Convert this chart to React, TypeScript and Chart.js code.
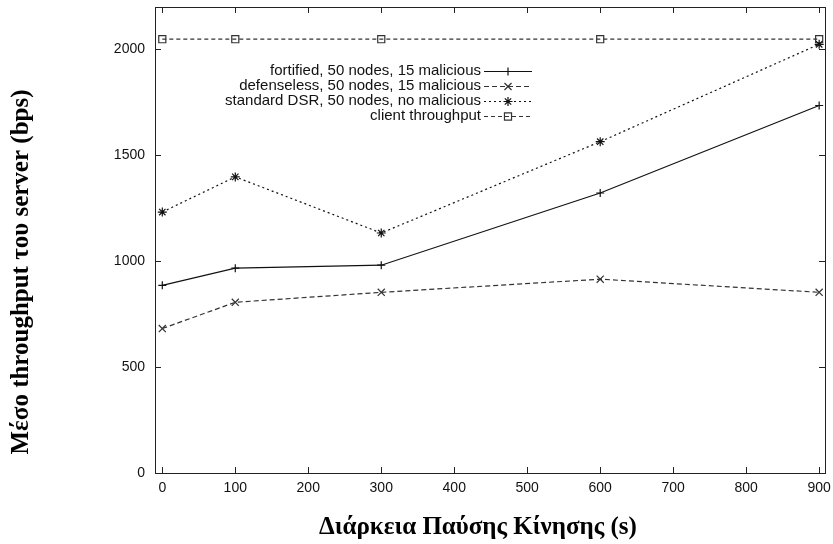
import React, { useEffect, useRef } from "react";
import { Chart, registerables } from "chart.js";
import { drawPoint } from "chart.js/helpers";

Chart.register(...registerables);

// Pause time (s) for each simulation run
const pauseTimes = [0, 100, 300, 600, 900];

// Average server throughput (bps) for each scenario
const fortified = [886, 967, 981, 1322, 1735];
const defenseless = [682, 806, 853, 915, 853];
const standardDsr = [1232, 1398, 1133, 1564, 2024];
const clientThroughput = [2048, 2048, 2048, 2048, 2048];

const seriesLabels = [
  "fortified, 50 nodes, 15 malicious",
  "defenseless, 50 nodes, 15 malicious",
  "standard DSR, 50 nodes, no malicious",
  "client throughput",
];

const xTickValues = [0, 100, 200, 300, 400, 500, 600, 700, 800, 900];
const yTickValues = [0, 500, 1000, 1500, 2000];

const xTitle = "Διάρκεια Παύσης Κίνησης (s)";
const yTitle = "Μέσο throughput του server (bps)";

const SANS = "'Liberation Sans', Arial, sans-serif";
const SERIF = "'Liberation Serif', 'Times New Roman', serif";

const toPoints = (ys: number[]) => pauseTimes.map((x, i) => ({ x, y: ys[i] }));

// Frame with inward ticks on all four sides, axis titles and a boxless key
const framePlugin = {
  id: "gnuplotFrame",
  afterDraw(chart: any) {
    const { ctx, chartArea: a, scales } = chart;
    const xs = scales.x;
    const ys = scales.y;
    ctx.save();
    ctx.strokeStyle = "#222";
    ctx.lineWidth = 1;
    ctx.setLineDash([]);
    ctx.strokeRect(Math.round(a.left) + 0.5, Math.round(a.top) + 0.5, Math.round(a.right - a.left), Math.round(a.bottom - a.top));
    const tl = 6;
    ctx.beginPath();
    xTickValues.forEach((v) => {
      const px = Math.round(xs.getPixelForValue(v)) + 0.5;
      ctx.moveTo(px, a.bottom);
      ctx.lineTo(px, a.bottom - tl);
      ctx.moveTo(px, a.top);
      ctx.lineTo(px, a.top + tl);
    });
    yTickValues.forEach((v) => {
      const py = Math.round(ys.getPixelForValue(v)) + 0.5;
      ctx.moveTo(a.left, py);
      ctx.lineTo(a.left + tl, py);
      ctx.moveTo(a.right, py);
      ctx.lineTo(a.right - tl, py);
    });
    ctx.stroke();

    // axis titles
    ctx.fillStyle = "#000";
    ctx.font = `bold 25px ${SERIF}`;
    ctx.textAlign = "center";
    ctx.textBaseline = "middle";
    ctx.fillText(xTitle, 478, 528);
    ctx.save();
    ctx.translate(22, 272);
    ctx.rotate(-Math.PI / 2);
    ctx.fillText(yTitle, 0, 0);
    ctx.restore();

    // key
    const textRight = a.left + 326;
    const sampleL = a.left + 329;
    const sampleR = a.left + 377;
    const firstRow = a.top + 64;
    ctx.font = `15px ${SANS}`;
    ctx.textAlign = "right";
    chart.data.datasets.forEach((ds: any, i: number) => {
      const y = firstRow + i * 15;
      ctx.fillStyle = "#111";
      ctx.fillText(ds.label, textRight, y);
      ctx.strokeStyle = ds.borderColor;
      ctx.lineWidth = ds.borderWidth;
      ctx.setLineDash(ds.borderDash || []);
      ctx.beginPath();
      ctx.moveTo(sampleL, y + 0.5);
      ctx.lineTo(sampleR, y + 0.5);
      ctx.stroke();
      ctx.setLineDash([]);
      ctx.fillStyle = "rgba(0,0,0,0)";
      ctx.strokeStyle = ds.pointBorderColor;
      ctx.lineWidth = ds.pointBorderWidth;
      drawPoint(
        ctx,
        {
          pointStyle: ds.pointStyle,
          radius: ds.pointRadius,
          borderWidth: ds.pointBorderWidth,
          rotation: 0,
        } as any,
        (sampleL + sampleR) / 2,
        y + 0.5
      );
    });
    ctx.restore();
  },
};

export default function App() {
  const canvasRef = useRef<HTMLCanvasElement | null>(null);

  useEffect(() => {
    if (!canvasRef.current) return;
    const mk = (label: string, ys: number[], color: string, dash: number[], style: string, r: number) => ({
      label,
      data: toPoints(ys),
      borderColor: color,
      backgroundColor: "rgba(0,0,0,0)",
      pointBorderColor: color,
      pointBackgroundColor: "rgba(0,0,0,0)",
      borderWidth: 1.2,
      borderDash: dash,
      pointStyle: style,
      pointRadius: r,
      pointBorderWidth: 1.2,
      tension: 0,
    });
    const chart = new Chart(canvasRef.current, {
      type: "line",
      data: {
        datasets: [
          mk(seriesLabels[0], fortified, "#111", [], "cross", 4),
          mk(seriesLabels[1], defenseless, "#333", [5, 3], "crossRot", 5),
          mk(seriesLabels[2], standardDsr, "#111", [2, 3], "star", 4.5),
          mk(seriesLabels[3], clientThroughput, "#333", [4, 3], "rect", 5),
        ] as any,
      },
      options: {
        animation: false,
        responsive: true,
        maintainAspectRatio: false,
        layout: { padding: { top: 7, right: 8, left: 0, bottom: 0 } },
        plugins: {
          legend: { display: false },
          tooltip: { enabled: false },
        },
        scales: {
          x: {
            type: "linear",
            min: -10,
            max: 908,
            grid: { display: false, drawTicks: false },
            border: { display: false },
            afterBuildTicks: (s: any) => {
              s.ticks = xTickValues.map((value) => ({ value }));
            },
            afterFit: (s: any) => {
              s.height = 71;
              s.paddingLeft = 0;
              s.paddingRight = 0;
            },
            ticks: {
              padding: 7,
              color: "#111",
              font: { family: SANS, size: 14 },
              maxRotation: 0,
              autoSkip: false,
              callback: (v: any) => String(v),
            },
          },
          y: {
            type: "linear",
            min: 0,
            max: 2200,
            grid: { display: false, drawTicks: false },
            border: { display: false },
            afterBuildTicks: (s: any) => {
              s.ticks = yTickValues.map((value) => ({ value }));
            },
            afterFit: (s: any) => {
              s.width = 155;
              s.paddingTop = 0;
              s.paddingBottom = 0;
            },
            ticks: {
              padding: 10,
              color: "#111",
              font: { family: SANS, size: 14 },
              callback: (v: any) => String(v),
            },
          },
        },
      },
      plugins: [framePlugin],
    });
    return () => chart.destroy();
  }, []);

  return (
    <div style={{ position: "absolute", left: 0, top: 0, width: 833, height: 544, background: "#fff" }}>
      <canvas ref={canvasRef} />
    </div>
  );
}
